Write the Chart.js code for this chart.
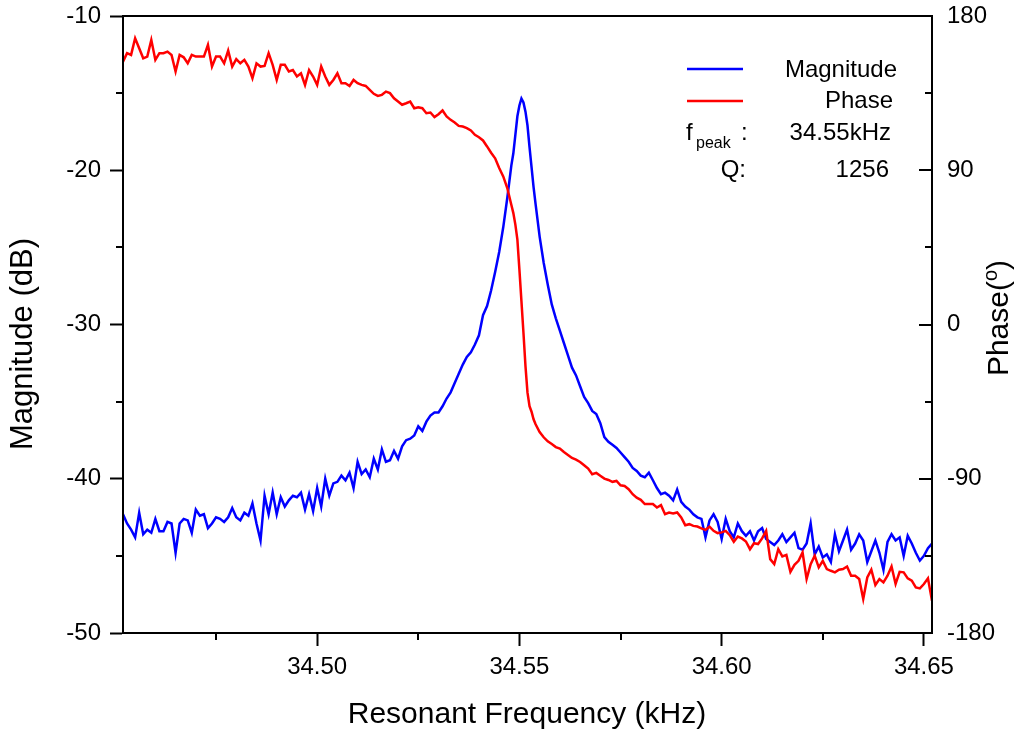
<!DOCTYPE html>
<html>
<head>
<meta charset="utf-8">
<title>Resonance</title>
<script src="https://cdn.jsdelivr.net/npm/chart.js@4.4.1/dist/chart.umd.min.js"></script>
<style>
  html, body { margin: 0; padding: 0; background: #fff; }
  #myChart { display: block; }
</style>
</head>
<body>
<canvas id="myChart" width="1024" height="735"></canvas>
<script>
'use strict'
// sweep frequencies (kHz), a few half steps round the peak
let freq = [
  34.452, 34.453, 34.454, 34.455, 34.456, 34.457, 34.458, 34.459, 34.460, 34.461,
  34.462, 34.463, 34.464, 34.465, 34.466, 34.467, 34.468, 34.469, 34.470, 34.471,
  34.472, 34.473, 34.474, 34.475, 34.476, 34.477, 34.478, 34.479, 34.480, 34.481,
  34.482, 34.483, 34.484, 34.485, 34.486, 34.487, 34.488, 34.489, 34.490, 34.491,
  34.492, 34.493, 34.494, 34.495, 34.496, 34.497, 34.498, 34.499, 34.500, 34.501,
  34.502, 34.503, 34.504, 34.505, 34.506, 34.507, 34.508, 34.509, 34.510, 34.511,
  34.512, 34.513, 34.514, 34.515, 34.516, 34.517, 34.518, 34.519, 34.520, 34.521,
  34.522, 34.523, 34.524, 34.525, 34.526, 34.527, 34.528, 34.529, 34.530, 34.531,
  34.532, 34.533, 34.534, 34.535, 34.536, 34.537, 34.538, 34.539, 34.540, 34.541,
  34.542, 34.543, 34.544, 34.545, 34.546, 34.547, 34.548,
  34.5485, 34.549, 34.5495, 34.550, 34.5505, 34.551, 34.5515, 34.552, 34.5525, 34.553, 34.5535,
  34.554, 34.555, 34.556, 34.557, 34.558, 34.559, 34.560, 34.561, 34.562, 34.563,
  34.564, 34.565, 34.566, 34.567, 34.568, 34.569, 34.570, 34.571, 34.572, 34.573,
  34.574, 34.575, 34.576, 34.577, 34.578, 34.579, 34.580, 34.581, 34.582, 34.583,
  34.584, 34.585, 34.586, 34.587, 34.588, 34.589, 34.590, 34.591, 34.592, 34.593,
  34.594, 34.595, 34.596, 34.597, 34.598, 34.599, 34.600, 34.601, 34.602, 34.603,
  34.604, 34.605, 34.606, 34.607, 34.608, 34.609, 34.610, 34.611, 34.612, 34.613,
  34.614, 34.615, 34.616, 34.617, 34.618, 34.619, 34.620, 34.621, 34.622, 34.623,
  34.624, 34.625, 34.626, 34.627, 34.628, 34.629, 34.630, 34.631, 34.632, 34.633,
  34.634, 34.635, 34.636, 34.637, 34.638, 34.639, 34.640, 34.641, 34.642, 34.643,
  34.644, 34.645, 34.646, 34.647, 34.648, 34.649, 34.650, 34.651, 34.652
];
// magnitude (dB)
let magnitude = [
  -42.3, -42.9, -43.3, -43.8, -42.2, -43.6, -43.3, -43.5, -42.6, -43.4,
  -43.4, -42.8, -42.9, -44.8, -42.9, -42.6, -42.7, -43.5, -42.0, -42.4,
  -42.3, -43.2, -42.9, -42.5, -42.6, -42.8, -42.5, -41.9, -42.5, -42.7,
  -42.2, -42.4, -41.6, -42.9, -44.0, -41.1, -42.3, -40.9, -42.3, -41.2,
  -41.8, -41.4, -41.1, -41.2, -40.9, -42.0, -41.0, -42.1, -40.6, -41.8,
  -40.0, -41.1, -40.3, -40.2, -39.8, -40.1, -39.6, -40.6, -38.9, -39.7,
  -39.4, -39.9, -38.7, -39.4, -38.1, -38.9, -38.8, -38.2, -38.7, -37.9,
  -37.5, -37.4, -37.2, -36.6, -36.9, -36.3, -35.9, -35.7, -35.7, -35.3,
  -34.8, -34.4, -33.8, -33.2, -32.6, -32.1, -31.8, -31.3, -30.7, -29.4,
  -28.8, -27.8, -26.6, -25.3, -23.7, -21.8, -19.7,
  -18.9, -17.7, -16.5, -15.8, -15.35, -15.6, -16.2, -17.1, -18.5, -19.8, -21.1,
  -22.2, -24.3, -26.0, -27.4, -28.7, -29.6, -30.4, -31.2, -32.0, -32.8,
  -33.3, -34.0, -34.7, -35.1, -35.6, -35.8, -36.4, -37.3, -37.6, -37.8,
  -38.0, -38.3, -38.6, -38.9, -39.3, -39.5, -39.8, -39.9, -39.6, -40.1,
  -40.6, -41.0, -40.9, -41.1, -41.4, -40.7, -41.5, -41.8, -42.0, -42.3,
  -42.5, -42.6, -43.8, -42.7, -42.3, -42.8, -43.9, -42.6, -43.4, -43.8,
  -42.9, -43.4, -43.7, -43.4, -44.0, -43.4, -43.2, -43.9, -44.1, -44.3,
  -44.0, -43.6, -44.1, -43.8, -43.5, -44.5, -44.6, -44.2, -42.9, -44.9,
  -44.4, -45.1, -44.9, -45.4, -43.6, -44.7, -44.0, -43.3, -44.6, -44.2,
  -43.6, -44.0, -45.4, -44.7, -44.0, -44.8, -45.9, -44.1, -43.6, -44.0,
  -43.8, -45.0, -43.7, -44.2, -44.8, -45.3, -45.0, -44.5, -44.2
];
// phase (degrees)
let phase = [
  153.4, 158.3, 157.3, 167.0, 161.2, 155.3, 156.3, 166.0, 154.4, 158.3,
  158.3, 159.2, 157.3, 147.6, 157.3, 155.9, 152.4, 157.3, 156.3, 156.3,
  156.3, 163.1, 150.5, 156.3, 156.3, 152.4, 159.8, 150.5, 154.8, 152.4,
  154.4, 150.5, 143.7, 152.4, 150.5, 150.9, 158.3, 151.5, 142.7, 151.5,
  151.5, 147.6, 148.5, 144.7, 146.6, 139.8, 148.5, 144.7, 139.8, 150.5,
  144.7, 139.8, 142.7, 146.6, 140.8, 140.8, 139.2, 142.7, 140.8, 139.8,
  139.2, 136.9, 134.6, 133.4, 134.0, 135.9, 135.0, 132.0, 130.1, 128.2,
  129.1, 130.1, 126.2, 126.8, 126.2, 123.3, 123.7, 121.0, 122.7, 124.9,
  121.4, 119.4, 117.9, 115.9, 115.5, 114.6, 113.2, 110.7, 109.3, 107.4,
  103.9, 100.2, 97.0, 91.3, 86.4, 79.6, 69.9,
  65.0, 58.3, 49.5, 32.0, 13.6, -4.8, -24.3, -39.8, -47.6, -50.9, -55.3,
  -58.2, -62.7, -65.8, -68.2, -69.7, -71.5, -72.4, -74.4, -76.1, -77.9,
  -78.8, -80.2, -82.1, -84.1, -87.4, -86.6, -88.3, -89.9, -90.7, -91.8,
  -91.3, -93.8, -94.2, -96.1, -99.0, -101.0, -102.3, -104.8, -104.8, -104.8,
  -106.8, -105.4, -110.7, -109.7, -110.3, -109.7, -112.6, -117.1, -116.5, -117.5,
  -117.9, -119.0, -119.8, -118.0, -120.4, -121.7, -121.3, -120.4, -122.9, -126.8,
  -123.7, -124.8, -126.6, -131.1, -127.6, -128.1, -124.8, -120.4, -136.9, -139.8,
  -131.1, -135.3, -134.4, -144.3, -140.2, -137.9, -133.0, -148.5, -139.8, -134.9,
  -141.7, -137.9, -142.7, -143.7, -144.6, -143.1, -142.7, -141.2, -146.6, -146.6,
  -148.5, -160.2, -147.6, -143.1, -152.0, -148.5, -150.5, -146.6, -141.2, -151.4,
  -144.3, -144.6, -148.1, -149.5, -153.4, -154.0, -151.4, -148.1, -161.2
];

// ticks
let xMajor = [34.50, 34.55, 34.60, 34.65];
let xMinor = [34.475, 34.525, 34.575, 34.625];
let magMinor = [-15, -25, -35, -45];
let phaseMinor = [135, 45, -45, -135];

// texts
let seriesNames = ['Magnitude', 'Phase'];
let xTitle = 'Resonant Frequency (kHz)';
let yTitle = 'Magnitude (dB)';
let y1Title = ['Phase(', 'o', ')'];
let peakText = '34.55kHz';
let qText = '1256';

const FONT = "'Liberation Sans', Arial, sans-serif";
Chart.defaults.font.family = FONT;
Chart.defaults.color = '#000';

function toPoints(ys) {
    let pts = [];
    for (let i = 0; i < freq.length; i++) {
        pts.push({ x: freq[i], y: ys[i] });
    }
    return pts;
}

// frame, minor ticks, inward right ticks, titles and the legend box
const decorations = {
    id: 'decorations',
    afterDraw(chart) {
        const ctx = chart.ctx;
        const a = chart.chartArea;
        const sx = chart.scales.x, sy = chart.scales.y, sy1 = chart.scales.y1;
        ctx.save();
        ctx.strokeStyle = '#000';
        ctx.lineWidth = 2;
        ctx.strokeRect(a.left, a.top, a.right - a.left, a.bottom - a.top);

        ctx.beginPath();
        xMinor.forEach(v => {
            let px = Math.round(sx.getPixelForValue(v));
            ctx.moveTo(px, a.bottom);
            ctx.lineTo(px, a.bottom + 7);
        });
        magMinor.forEach(v => {
            let py = Math.round(sy.getPixelForValue(v));
            ctx.moveTo(a.left, py);
            ctx.lineTo(a.left - 7, py);
        });
        phaseMinor.forEach(v => {
            let py = Math.round(sy1.getPixelForValue(v));
            ctx.moveTo(a.right, py);
            ctx.lineTo(a.right - 7, py);
        });
        sy1.ticks.forEach(t => {
            let py = Math.round(sy1.getPixelForValue(t.value));
            ctx.moveTo(a.right, py);
            ctx.lineTo(a.right - 13, py);
        });
        ctx.stroke();

        // axis titles
        ctx.fillStyle = '#000';
        ctx.font = '30px ' + FONT;
        ctx.textAlign = 'center';
        ctx.textBaseline = 'alphabetic';
        ctx.fillText(xTitle, 527, 723);

        ctx.save();
        ctx.translate(32, 344);
        ctx.rotate(-Math.PI / 2);
        ctx.font = '31px ' + FONT;
        ctx.fillText(yTitle, 0, 0);
        ctx.restore();

        ctx.save();
        ctx.translate(1008, 318);
        ctx.rotate(-Math.PI / 2);
        ctx.textAlign = 'left';
        ctx.font = '30px ' + FONT;
        let w0 = ctx.measureText(y1Title[0]).width;
        let w2 = ctx.measureText(y1Title[2]).width;
        ctx.font = '20px ' + FONT;
        let w1 = ctx.measureText(y1Title[1]).width;
        let start = -(w0 + w1 + w2) / 2;
        ctx.font = '30px ' + FONT;
        ctx.fillText(y1Title[0], start, 0);
        ctx.font = '20px ' + FONT;
        ctx.fillText(y1Title[1], start + w0, -11);
        ctx.font = '30px ' + FONT;
        ctx.fillText(y1Title[2], start + w0 + w1, 0);
        ctx.restore();

        // legend
        let sets = chart.data.datasets;
        ctx.lineWidth = 2.5;
        [69, 101].forEach((ly, i) => {
            ctx.strokeStyle = sets[i].borderColor;
            ctx.beginPath();
            ctx.moveTo(687, ly);
            ctx.lineTo(743, ly);
            ctx.stroke();
        });
        ctx.font = '24px ' + FONT;
        ctx.textAlign = 'right';
        ctx.fillText(seriesNames[0], 897, 77);
        ctx.fillText(seriesNames[1], 893, 108);
        ctx.fillText(peakText, 891, 140);
        ctx.fillText('Q:', 746, 177);
        ctx.fillText(qText, 889, 177);
        ctx.textAlign = 'left';
        ctx.fillText('f', 686, 140);
        ctx.fillText(':', 741, 140);
        ctx.font = '16px ' + FONT;
        ctx.fillText('peak', 696, 148);
        ctx.restore();
    }
};

const tickFont = { size: 24 };

function fixWidth(w) {
    return s => {
        s.width = w;
        s.paddingTop = 0;
        s.paddingBottom = 0;
    };
}

let ctx = document.getElementById('myChart').getContext('2d');
let myChart = new Chart(ctx, {
    type: 'line',
    data: {
        datasets: [{
                label: seriesNames[0],
                data: toPoints(magnitude),
                borderColor: 'rgb(0, 0, 255)',
                backgroundColor: 'rgb(0, 0, 255)',
                yAxisID: 'y',
                order: 1
            },
            {
                label: seriesNames[1],
                data: toPoints(phase),
                borderColor: 'rgb(255, 0, 0)',
                backgroundColor: 'rgb(255, 0, 0)',
                yAxisID: 'y1',
                order: 0
            }
        ]
    },
    options: {
        responsive: false,
        animation: false,
        devicePixelRatio: 1,
        layout: { padding: { top: 16, left: 0, right: 0, bottom: 0 } },
        elements: {
            point: { radius: 0 },
            line: { borderWidth: 2.5, tension: 0 }
        },
        plugins: {
            legend: { display: false },
            tooltip: { enabled: false }
        },
        scales: {
            x: {
                type: 'linear',
                min: 34.452,
                max: 34.652,
                afterBuildTicks: s => { s.ticks = xMajor.map(v => ({ value: v })); },
                afterFit: s => { s.height = 102; s.paddingLeft = 0; s.paddingRight = 0; },
                ticks: { font: tickFont, color: '#000', padding: 7, maxRotation: 0, autoSkip: false,
                    callback: v => Number(v).toFixed(2) },
                grid: { drawOnChartArea: false, tickLength: 13, tickWidth: 2, color: '#000' },
                border: { color: '#000', width: 2 }
            },
            y: {
                position: 'left',
                min: -50,
                max: -10,
                afterFit: fixWidth(123),
                ticks: { stepSize: 10, font: tickFont, color: '#000', padding: 9 },
                grid: { drawOnChartArea: false, tickLength: 13, tickWidth: 2, color: '#000' },
                border: { color: '#000', width: 2 }
            },
            y1: {
                position: 'right',
                min: -180,
                max: 180,
                afterFit: fixWidth(92),
                ticks: { stepSize: 90, font: tickFont, color: '#000', padding: 15 },
                grid: { drawOnChartArea: false, drawTicks: false, color: '#000' },
                border: { color: '#000', width: 2 }
            }
        }
    },
    plugins: [decorations]
});
</script>
</body>
</html>
